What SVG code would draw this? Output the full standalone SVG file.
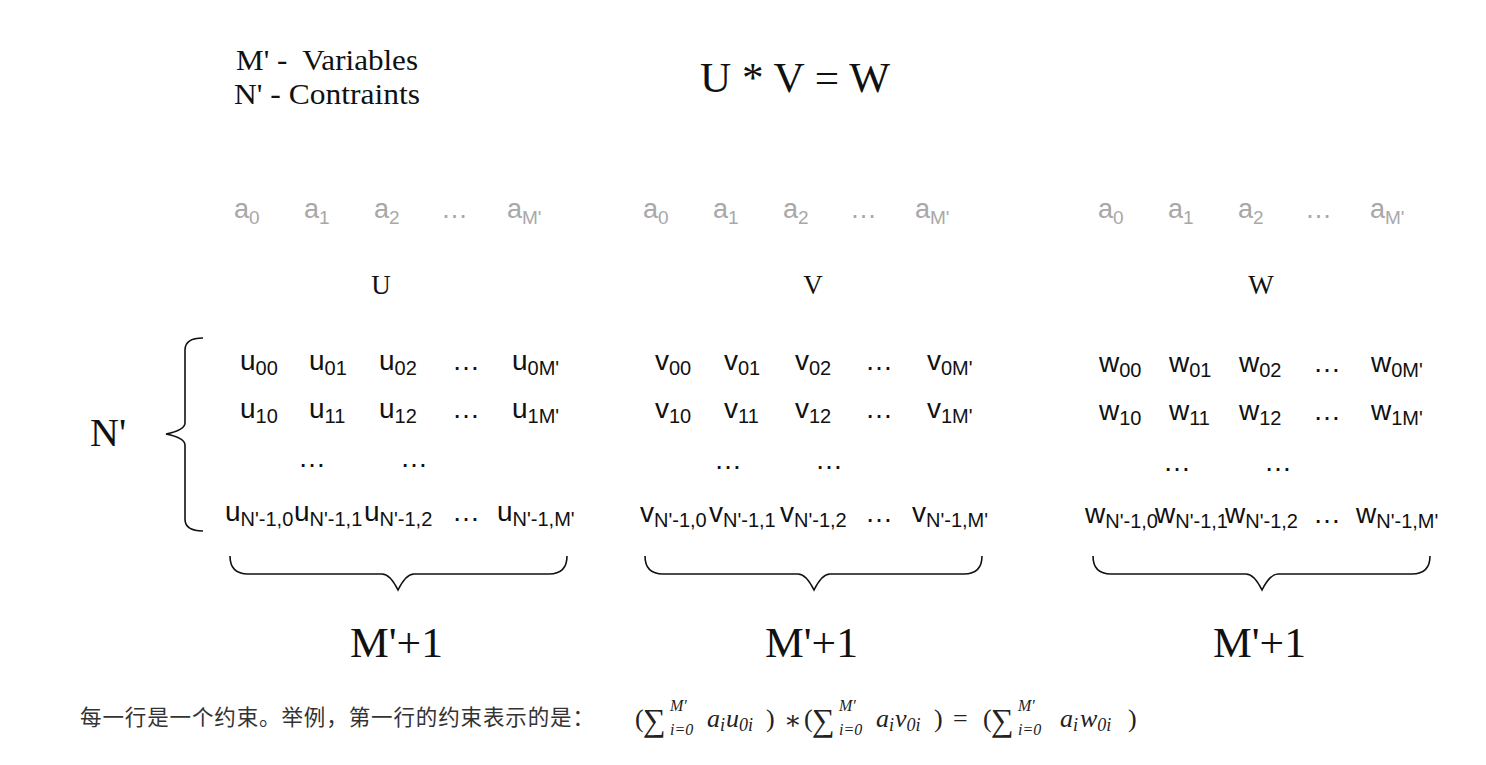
<svg xmlns="http://www.w3.org/2000/svg" width="1486" height="765" viewBox="0 0 1486 765">
<style>
.serif{font-family:"Liberation Serif","Times New Roman",serif;fill:#111}
.a{font-family:"Liberation Sans",Arial,sans-serif;font-size:27px;fill:#a8a8a8}
.m{font-family:"Liberation Sans",Arial,sans-serif;font-size:28px;fill:#111}
.s{font-size:19px}
.ms{font-size:20px}
.br{fill:none;stroke:#111;stroke-width:1.6}
.cn{font-family:"Noto Sans CJK SC","Noto Sans",sans-serif;font-size:21.5px;fill:#333}
.f{font-family:"Liberation Serif","DejaVu Serif",serif;fill:#222}
.lim{font-size:16px;font-style:italic}
</style>
<rect width="1486" height="765" fill="#fff"/>

<g id="legend" class="serif" font-size="29">
<text x="236" y="70" textLength="182" lengthAdjust="spacingAndGlyphs" xml:space="preserve">M' -  Variables</text>
<text x="234" y="104" textLength="186" lengthAdjust="spacingAndGlyphs">N' - Contraints</text>
</g>
<g id="title"><text class="serif" x="700" y="92" font-size="42" textLength="190" lengthAdjust="spacingAndGlyphs">U * V = W</text></g>

<g id="a-row-U" class="a">
<text x="234" y="218">a<tspan class="s" dy="6">0</tspan></text>
<text x="304" y="218">a<tspan class="s" dy="6">1</tspan></text>
<text x="374" y="218">a<tspan class="s" dy="6">2</tspan></text>
<text x="441" y="218">…</text>
<text x="507" y="218">a<tspan class="s" dy="6">M'</tspan></text>
</g>
<g id="a-row-V" class="a">
<text x="643" y="218">a<tspan class="s" dy="6">0</tspan></text>
<text x="713" y="218">a<tspan class="s" dy="6">1</tspan></text>
<text x="783" y="218">a<tspan class="s" dy="6">2</tspan></text>
<text x="850" y="218">…</text>
<text x="915" y="218">a<tspan class="s" dy="6">M'</tspan></text>
</g>
<g id="a-row-W" class="a">
<text x="1098" y="218">a<tspan class="s" dy="6">0</tspan></text>
<text x="1168" y="218">a<tspan class="s" dy="6">1</tspan></text>
<text x="1238" y="218">a<tspan class="s" dy="6">2</tspan></text>
<text x="1305" y="218">…</text>
<text x="1370" y="218">a<tspan class="s" dy="6">M'</tspan></text>
</g>

<g id="labels" class="serif" font-size="27" text-anchor="middle">
<text x="381" y="294">U</text>
<text x="813" y="294">V</text>
<text x="1261" y="294">W</text>
</g>

<g id="matrix-U" class="m">
<text x="240" y="370">u<tspan class="ms" dy="5">00</tspan></text>
<text x="309" y="370">u<tspan class="ms" dy="5">01</tspan></text>
<text x="379" y="370">u<tspan class="ms" dy="5">02</tspan></text>
<text x="452" y="370">…</text>
<text x="512" y="370">u<tspan class="ms" dy="5">0M'</tspan></text>
<text x="240" y="418">u<tspan class="ms" dy="5">10</tspan></text>
<text x="309" y="418">u<tspan class="ms" dy="5">11</tspan></text>
<text x="379" y="418">u<tspan class="ms" dy="5">12</tspan></text>
<text x="452" y="418">…</text>
<text x="512" y="418">u<tspan class="ms" dy="5">1M'</tspan></text>
<text x="298" y="467">…</text>
<text x="400" y="467">…</text>
<text x="225" y="521">u<tspan class="ms" dy="5">N'-1,0</tspan></text>
<text x="294" y="521">u<tspan class="ms" dy="5">N'-1,1</tspan></text>
<text x="364" y="521">u<tspan class="ms" dy="5">N'-1,2</tspan></text>
<text x="452" y="521">…</text>
<text x="497" y="521">u<tspan class="ms" dy="5">N'-1,M'</tspan></text>
</g>

<g id="matrix-V" class="m">
<text x="655" y="370">v<tspan class="ms" dy="5">00</tspan></text>
<text x="724" y="370">v<tspan class="ms" dy="5">01</tspan></text>
<text x="795" y="370">v<tspan class="ms" dy="5">02</tspan></text>
<text x="865" y="370">…</text>
<text x="927" y="370">v<tspan class="ms" dy="5">0M'</tspan></text>
<text x="655" y="418">v<tspan class="ms" dy="5">10</tspan></text>
<text x="724" y="418">v<tspan class="ms" dy="5">11</tspan></text>
<text x="795" y="418">v<tspan class="ms" dy="5">12</tspan></text>
<text x="865" y="418">…</text>
<text x="927" y="418">v<tspan class="ms" dy="5">1M'</tspan></text>
<text x="714" y="469">…</text>
<text x="815" y="469">…</text>
<text x="640" y="522">v<tspan class="ms" dy="5">N'-1,0</tspan></text>
<text x="709" y="522">v<tspan class="ms" dy="5">N'-1,1</tspan></text>
<text x="780" y="522">v<tspan class="ms" dy="5">N'-1,2</tspan></text>
<text x="865" y="522">…</text>
<text x="912" y="522">v<tspan class="ms" dy="5">N'-1,M'</tspan></text>
</g>

<g id="matrix-W" class="m">
<text x="1099" y="372">w<tspan class="ms" dy="5">00</tspan></text>
<text x="1169" y="372">w<tspan class="ms" dy="5">01</tspan></text>
<text x="1239" y="372">w<tspan class="ms" dy="5">02</tspan></text>
<text x="1313" y="372">…</text>
<text x="1371" y="372">w<tspan class="ms" dy="5">0M'</tspan></text>
<text x="1099" y="420">w<tspan class="ms" dy="5">10</tspan></text>
<text x="1169" y="420">w<tspan class="ms" dy="5">11</tspan></text>
<text x="1239" y="420">w<tspan class="ms" dy="5">12</tspan></text>
<text x="1313" y="420">…</text>
<text x="1371" y="420">w<tspan class="ms" dy="5">1M'</tspan></text>
<text x="1163" y="471">…</text>
<text x="1264" y="471">…</text>
<text x="1085" y="523">w<tspan class="ms" dy="5">N'-1,0</tspan></text>
<text x="1155" y="523">w<tspan class="ms" dy="5">N'-1,1</tspan></text>
<text x="1225" y="523">w<tspan class="ms" dy="5">N'-1,2</tspan></text>
<text x="1313" y="523">…</text>
<text x="1356" y="523">w<tspan class="ms" dy="5">N'-1,M'</tspan></text>
</g>

<g id="rows-label"><text class="serif" x="90" y="446" font-size="40">N'</text></g>

<g id="connectors">
<path class="br" d="M203,338 Q185,338 185,350 L185,423 Q185,430 166,434 Q185,438 185,445 L185,519 Q185,531 203,531"/>
<path class="br" d="M230,556 Q230,574 248,574 L382,574 Q390,574 398,590 Q406,574 414,574 L549,574 Q567,574 567,556"/>
<path class="br" d="M645,556 Q645,574 663,574 L798,574 Q806,574 814,590 Q822,574 830,574 L964,574 Q982,574 982,556"/>
<path class="br" d="M1093,556 Q1093,574 1111,574 L1246,574 Q1254,574 1262,590 Q1270,574 1278,574 L1412,574 Q1430,574 1430,556"/>
</g>

<g id="count-labels" class="serif" font-size="42">
<text x="350" y="657" textLength="93" lengthAdjust="spacingAndGlyphs">M'+1</text>
<text x="765" y="657" textLength="93" lengthAdjust="spacingAndGlyphs">M'+1</text>
<text x="1213" y="657" textLength="93" lengthAdjust="spacingAndGlyphs">M'+1</text>
</g>

<g id="note">
<text class="cn" x="80" y="725" textLength="514" lengthAdjust="spacing">每一行是一个约束。举例，第一行的约束表示的是：</text>
<g class="f" font-size="26">
<text x="635" y="727">(</text>
<text x="643" y="731" font-size="32">∑</text>
<text x="670" y="711" class="lim">M′</text>
<text x="670" y="735" class="lim">i=0</text>
<text x="707" y="727" font-style="italic">a<tspan font-size="18" dy="4">i</tspan></text>
<text x="726" y="727" font-style="italic">u<tspan font-size="18" dy="4">0i</tspan></text>
<text x="766" y="727">)</text>
<text x="784" y="729">∗</text>
<text x="804" y="727">(</text>
<text x="812" y="731" font-size="32">∑</text>
<text x="839" y="711" class="lim">M′</text>
<text x="839" y="735" class="lim">i=0</text>
<text x="876" y="727" font-style="italic">a<tspan font-size="18" dy="4">i</tspan></text>
<text x="895" y="727" font-style="italic">v<tspan font-size="18" dy="4">0i</tspan></text>
<text x="934" y="727">)</text>
<text x="953" y="727">=</text>
<text x="983" y="727">(</text>
<text x="991" y="731" font-size="32">∑</text>
<text x="1018" y="711" class="lim">M′</text>
<text x="1018" y="735" class="lim">i=0</text>
<text x="1060" y="727" font-style="italic">a<tspan font-size="18" dy="4">i</tspan></text>
<text x="1080" y="727" font-style="italic">w<tspan font-size="18" dy="4">0i</tspan></text>
<text x="1128" y="727">)</text>
</g>
</g>
</svg>
